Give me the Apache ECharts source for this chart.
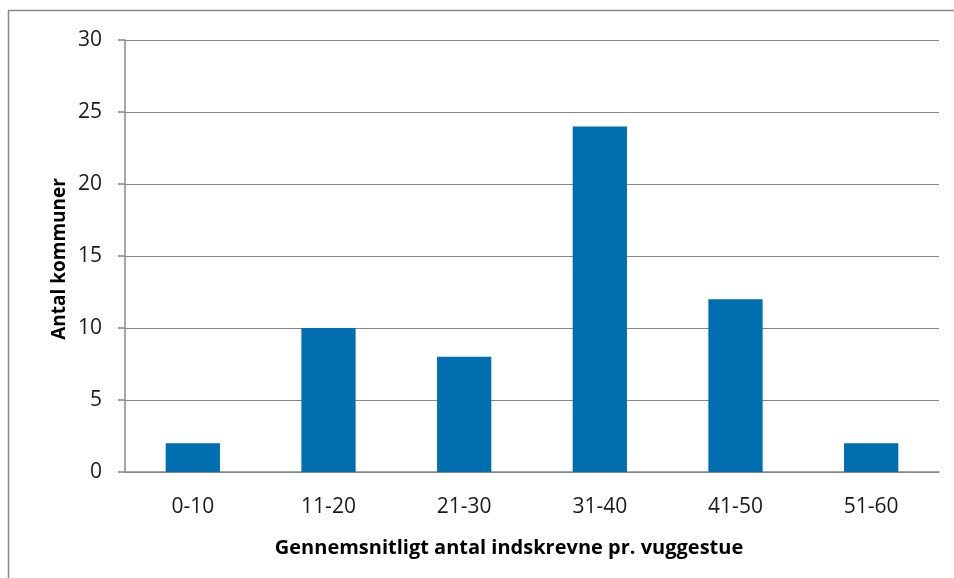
<!DOCTYPE html>
<html><head><meta charset="utf-8">
<script src="https://cdn.jsdelivr.net/npm/echarts@6/dist/echarts.min.js"></script>
<style>html,body{margin:0;padding:0;background:#fff}#c{width:954px;height:578px}</style>
</head><body><div id="c"></div>
<script>
const categories = ['0-10','11-20','21-30','31-40','41-50','51-60'];
const values = [2, 10, 8, 24, 12, 2];
const yTicks = [0, 5, 10, 15, 20, 25, 30];
const xTitle = 'Gennemsnitligt antal indskrevne pr. vuggestue';
const yTitle = 'Antal kommuner';

const chart = echarts.init(document.getElementById('c'), null, {renderer:'canvas'});
const font = '"Open Sans", sans-serif';
chart.setOption({
  animation: false,
  grid: {left: 125, right: 15, top: 40, bottom: 106, containLabel: false},
  xAxis: {
    type: 'category', data: categories,
    axisLine: {lineStyle: {color: '#888888', width: 1.5}},
    axisTick: {show: false},
    axisLabel: {color: '#1a1a1a', fontSize: 21, fontFamily: font, margin: 25}
  },
  yAxis: {
    type: 'value', min: yTicks[0], max: yTicks[yTicks.length-1], interval: 5,
    axisLine: {show: true, lineStyle: {color: '#888888', width: 1.5}},
    axisTick: {show: true, inside: false, length: 7, lineStyle: {color: '#888888', width: 1.5}},
    axisLabel: {color: '#1a1a1a', fontSize: 21, fontFamily: font, margin: 23},
    splitLine: {lineStyle: {color: '#888888', width: 1.2}}
  },
  series: [{
    type: 'bar', data: values, barWidth: '40%',
    itemStyle: {color: '#006fb0'}
  }],
  graphic: [
    {type: 'polyline', silent: true, shape: {points: [[8.5, 578], [8.5, 10.5], [954, 10.5]]},
     style: {stroke: '#888888', lineWidth: 1.5, fill: null}},
    {type: 'text', style: {text: xTitle, font: 'bold 20px ' + font, fill: '#000', textAlign: 'center', textVerticalAlign: 'middle', x: 509, y: 548}},
    {type: 'text', rotation: Math.PI/2, x: 60, y: 259,
     style: {text: yTitle, font: 'bold 19px ' + font, fill: '#000', textAlign: 'center', textVerticalAlign: 'middle'}}
  ]
});
</script></body></html>
